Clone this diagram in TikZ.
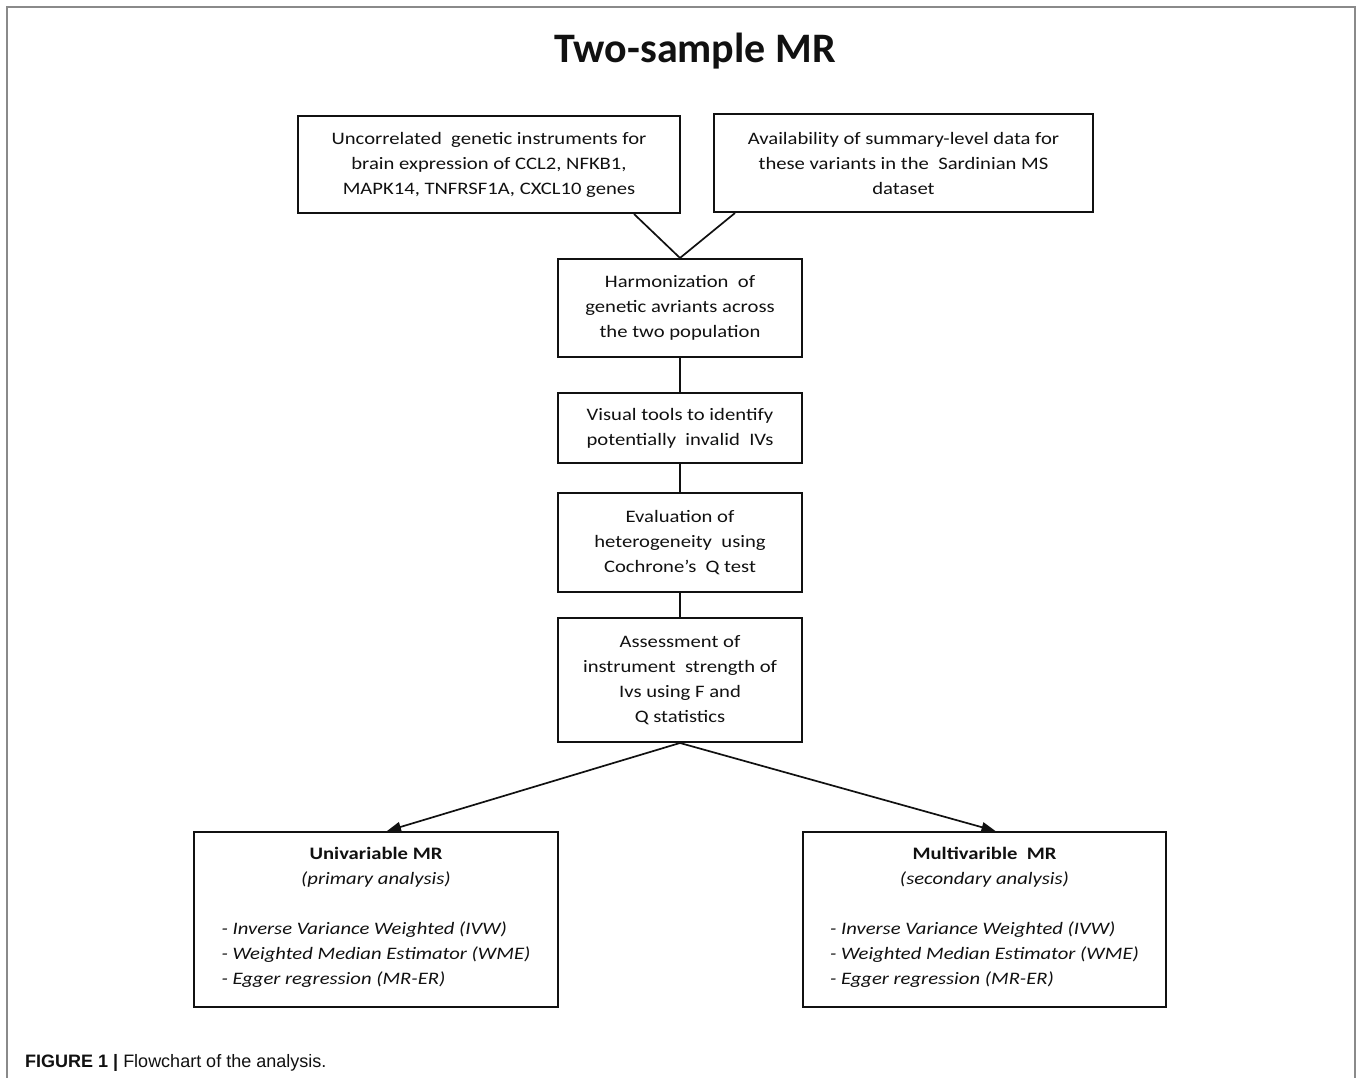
\documentclass[tikz,border=0pt]{standalone}
\usepackage{fontspec}
\setmainfont{Carlito}[FakeStretch=1.18]
\newfontfamily\titlefont{Carlito}
\newfontfamily\capfont{Liberation Sans}
\usetikzlibrary{arrows.meta}
\definecolor{framegray}{HTML}{8A8A8A}
\definecolor{ink}{HTML}{111111}
\tikzset{
  box/.style={draw=ink, line width=2pt, rectangle, inner sep=0pt, align=center,
    font=\fontsize{17.5}{25}\selectfont, text=ink},
  conn/.style={draw=ink, line width=1.7pt},
  arr/.style={conn, -{Triangle[length=14pt,width=10pt]}},
}
\begin{document}
\begin{tikzpicture}[x=1pt,y=-1pt]
\useasboundingbox (0,0) rectangle (1358,1078);
\fill[white] (0,0) rectangle (1358,1078);
% outer frame (open at the bottom)
\draw[framegray, line width=2pt] (7,1078) -- (7,7) -- (1355,7) -- (1355,1078);
% title
\node[anchor=base, inner sep=0pt, text=ink, font=\titlefont\bfseries\fontsize{42}{50}\selectfont] (title) at (695,63) {Two-sample MR};
% boxes
\node[box, minimum width=382pt, minimum height=97pt] (a) at (489,164.5)
  {Uncorrelated\ \ genetic instruments for\\ brain expression of CCL2,\ NFKB1,\\ MAPK14, TNFRSF1A, CXCL10 genes};
\node[box, minimum width=379pt, minimum height=98pt] (b) at (903.5,163)
  {Availability of summary-level data for\\ these variants in the\ \ Sardinian\ MS\\ dataset};
\node[box, minimum width=244pt, minimum height=98pt] (c) at (680,308)
  {Harmonization\ \ of\\ genetic avriants across\\ the two population};
\node[box, minimum width=244pt, minimum height=70pt] (d) at (680,428)
  {Visual tools to identify\\ potentially\ \ invalid\ \ IVs};
\node[box, minimum width=244pt, minimum height=99pt] (e) at (680,542.5)
  {Evaluation of\\ heterogeneity\ \ using\\ Cochrone’s\ \ Q test};
\node[box, minimum width=244pt, minimum height=124pt] (f) at (680,680)
  {Assessment of\\ instrument\ \ strength of\\ Ivs using F and\\ Q statistics};
\node[box, minimum width=364pt, minimum height=175pt] (g) at (376,919.5)
  {\textbf{Univariable MR}\\ \textit{(primary analysis)}\\[25pt]
   \begin{tabular}[t]{@{}l@{}}\textit{- Inverse Variance Weighted (IVW)}\\ \textit{- Weighted Median Estimator (WME)}\\ \textit{- Egger regression (MR-ER)}\end{tabular}};
\node[box, minimum width=363pt, minimum height=175pt] (h) at (984.5,919.5)
  {\textbf{Multivarible\ \ MR}\\ \textit{(secondary analysis)}\\[25pt]
   \begin{tabular}[t]{@{}l@{}}\textit{- Inverse Variance Weighted (IVW)}\\ \textit{- Weighted Median Estimator (WME)}\\ \textit{- Egger regression (MR-ER)}\end{tabular}};
% connectors
\draw[conn] ([xshift=145pt]a.south) -- (c.north);
\draw[conn] ([xshift=-168.5pt]b.south) -- (c.north);
\draw[conn] (c) -- (d);
\draw[conn] (d) -- (e);
\draw[conn] (e) -- (f);
\draw[arr] (f.south) -- ([xshift=11pt]g.north);
\draw[arr] (f.south) -- ([xshift=11pt]h.north);
% caption
\node[anchor=base west, inner sep=0pt, text=ink, font=\capfont\fontsize{18}{22}\selectfont] (cap) at (25,1067)
  {\textbf{FIGURE 1} \textbf{|} Flowchart of the analysis.};
\end{tikzpicture}
\end{document}
